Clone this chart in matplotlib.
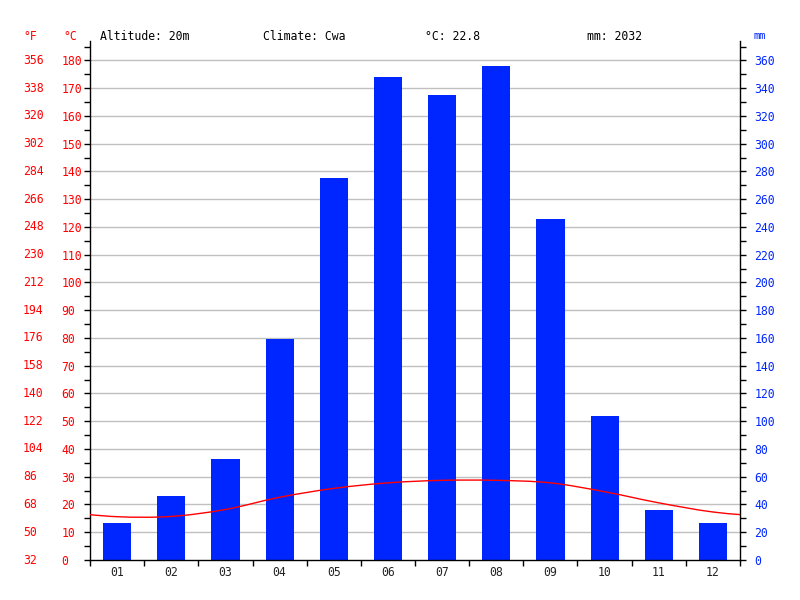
import numpy as np
import matplotlib
matplotlib.use('Agg')
import matplotlib.pyplot as plt
from matplotlib.path import Path
from matplotlib.patches import PathPatch
import matplotlib.transforms as mtransforms

plt.rcParams['font.family'] = 'DejaVu Sans Mono'

# Climate data
months = ['01', '02', '03', '04', '05', '06', '07', '08', '09', '10', '11', '12']
precip_mm = [27, 46, 73, 159, 275, 348, 335, 356, 246, 104, 36, 27]
temp_c = [15.6, 15.7, 18.2, 22.6, 25.8, 27.8, 28.7, 28.7, 27.8, 24.6, 20.6, 17.3]
c_ticks = list(range(0, 190, 10))
f_labels = [str(int(c * 9 / 5 + 32)) for c in c_ticks]
mm_ticks = list(range(0, 380, 20))

altitude = 'Altitude: 20m'
climate = 'Climate: Cwa'
mean_temp = '°C: 22.8'
total_mm = 'mm: 2032'

RED = '#ff0000'
BLUE = '#0026ff'
FS = 8.3

fig = plt.figure(figsize=(8, 6), dpi=100)
ax = fig.add_axes([90 / 800, 40 / 600, 650 / 800, 519 / 600])
ax2 = ax.twinx()

x = np.arange(1, 13)

# precipitation bars on the mm axis
ax2.bar(x, precip_mm, width=0.52, color=BLUE, zorder=2)
ax2.set_ylim(0, 374)

# temperature curve, smooth and wrapped round the year
xs = np.arange(0, 14)
ys = [temp_c[-1]] + temp_c + [temp_c[0]]
verts = [(xs[0], ys[0])]
codes = [Path.MOVETO]
for i in range(len(xs) - 1):
    p0 = (xs[max(i - 1, 0)], ys[max(i - 1, 0)])
    p1 = (xs[i], ys[i])
    p2 = (xs[i + 1], ys[i + 1])
    p3 = (xs[min(i + 2, len(xs) - 1)], ys[min(i + 2, len(xs) - 1)])
    c1 = (p1[0] + (p2[0] - p0[0]) / 6, p1[1] + (p2[1] - p0[1]) / 6)
    c2 = (p2[0] - (p3[0] - p1[0]) / 6, p2[1] - (p3[1] - p1[1]) / 6)
    verts += [c1, c2, p2]
    codes += [Path.CURVE4] * 3
ax.set_zorder(ax2.get_zorder() + 1)
ax.patch.set_visible(False)
ax2.patch.set_visible(True)
curve = PathPatch(Path(verts, codes), facecolor='none', edgecolor=RED, lw=1, zorder=3)
ax.add_patch(curve)

ax.set_xlim(0.5, 12.5)
ax.set_ylim(0, 187)

# grid lines behind the bars, drawn on the bar axis
for c in c_ticks[1:]:
    ax2.axhline(c * 2, color='#c0c0c0', lw=1, zorder=1)

# left (°C) axis
ax.set_yticks(c_ticks)
ax.set_yticks(range(5, 190, 10), minor=True)
ax.tick_params(axis='y', which='both', direction='out', length=4, width=1,
               colors='black', labelcolor=RED, labelsize=FS, pad=16.5)
for lab in ax.get_yticklabels():
    lab.set_horizontalalignment('left')

# Fahrenheit labels
trans = mtransforms.blended_transform_factory(fig.transFigure, ax.transData)
for c, f in zip(c_ticks, f_labels):
    ax.text(23 / 800, c, f, transform=trans, color=RED, fontsize=FS,
            ha='left', va='center')

# right (mm) axis
ax2.set_yticks(mm_ticks)
ax2.set_yticks(range(10, 380, 20), minor=True)
ax2.tick_params(axis='y', which='both', direction='out', length=4, width=1,
                colors='black', labelcolor=BLUE, labelsize=FS, pad=6.5)

# month axis
ax.set_xticks(x)
ax.set_xticklabels(months)
ax.set_xticks(np.arange(0.5, 13, 1), minor=True)
ax.tick_params(axis='x', which='major', length=0, labelsize=FS, pad=4, labelcolor='#222222')
ax.tick_params(axis='x', which='minor', length=4, width=1, direction='out')
ax2.tick_params(axis='x', which='both', length=0)

for a in (ax, ax2):
    a.spines['top'].set_visible(False)
    for s in ('left', 'right', 'bottom'):
        a.spines[s].set_linewidth(1)
ax.spines['right'].set_visible(False)
ax2.spines['left'].set_visible(False)
ax2.spines['bottom'].set_visible(False)

# header texts
fig.text(23 / 800, 1 - 36 / 600, '°F', color=RED, fontsize=FS, va='center')
fig.text(63 / 800, 1 - 36 / 600, '°C', color=RED, fontsize=FS, va='center')
fig.text(753 / 800, 1 - 36 / 600, 'mm', color=BLUE, fontsize=7.5, va='center')
fig.text(100 / 800, 1 - 36 / 600, altitude, fontsize=FS, va='center')
fig.text(263 / 800, 1 - 36 / 600, climate, fontsize=FS, va='center')
fig.text(425 / 800, 1 - 36 / 600, mean_temp, fontsize=FS, va='center')
fig.text(587 / 800, 1 - 36 / 600, total_mm, fontsize=FS, va='center')

fig.savefig('out.png', dpi=100)
